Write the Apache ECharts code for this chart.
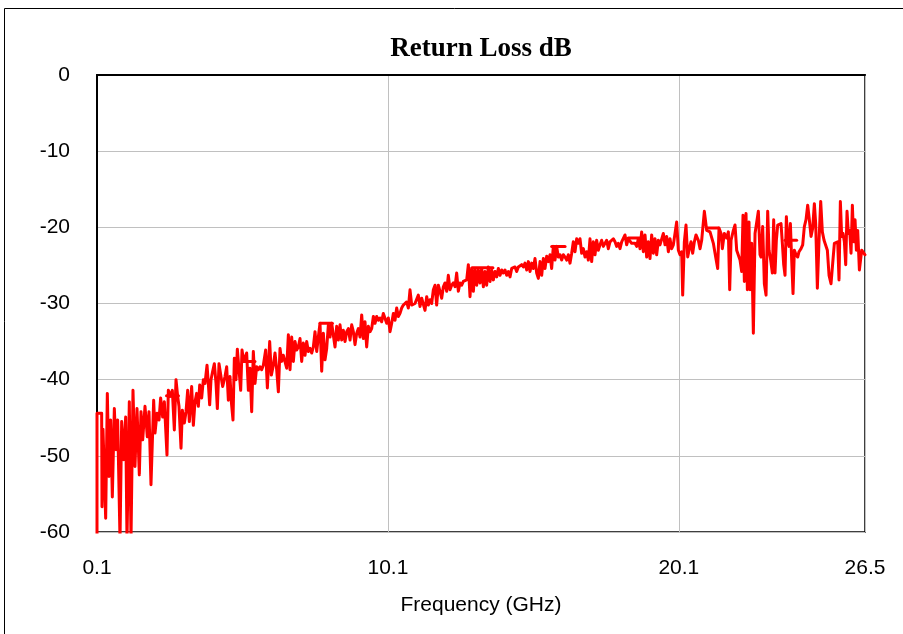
<!DOCTYPE html>
<html>
<head>
<meta charset="utf-8">
<script src="https://cdn.jsdelivr.net/npm/echarts@6/dist/echarts.min.js"></script>
<style>
html,body{margin:0;padding:0;background:#fff;}
#chart{width:903px;height:634px;}
</style>
</head>
<body>
<div id="chart"></div>
<script>
// Return loss trace: [frequency GHz, return loss dB]
const trace = [
[0.1,-61],[0.1,-44.4],[0.26,-44.4],[0.272,-56.7],[0.306,-46.5],[0.398,-58.2],[0.455,-41.8],[0.512,-52.7],[0.570,-45.3],[0.627,-55.4],
[0.696,-43.8],[0.753,-49.2],[0.810,-45.3],[0.891,-61],[0.948,-45.5],[1.017,-50.5],[1.085,-44.9],[1.131,-61],[1.211,-42.9],[1.269,-61],
[1.337,-41.4],[1.406,-51.4],[1.475,-43.8],[1.555,-52.5],[1.612,-44.2],[1.670,-47.9],[1.750,-43.5],[1.830,-47.5],[1.887,-44.2],[1.956,-53.8],
[2.048,-42.7],[2.094,-47.0],[2.163,-44.4],[2.231,-45.3],[2.288,-42.4],[2.357,-44.9],[2.415,-42.9],[2.506,-49.9],[2.552,-41.4],[2.621,-42.2],
[2.690,-41.4],[2.758,-46.6],[2.816,-40.0],[2.873,-42.2],[2.919,-43.5],[2.988,-49.0],[3.034,-44.0],[3.102,-45.7],[3.160,-44.2],[3.217,-41.4],
[3.274,-45.5],[3.354,-40.9],[3.412,-46.0],[3.469,-42.9],[3.526,-41.8],[3.584,-43.5],[3.630,-40.7],[3.698,-42.4],[3.756,-40.0],[3.813,-40.5],
[3.882,-38.1],[3.927,-40.5],[3.973,-43.3],[4.019,-40.0],[4.076,-38.9],[4.134,-37.9],[4.191,-40.5],[4.237,-43.8],[4.294,-37.9],[4.363,-39.6],
[4.420,-40.9],[4.500,-39.6],[4.558,-38.3],[4.615,-42.7],[4.672,-39.6],[4.718,-42.9],[4.775,-45.3],[4.821,-37.2],[4.878,-40.0],[4.924,-36.0],
[4.982,-38.7],[5.039,-41.4],[5.085,-36.1],[5.142,-37.6],[5.200,-37.4],[5.245,-36.5],[5.303,-41.4],[5.360,-38.5],
[5.417,-44.2],[5.474,-36.3],[5.532,-40.5],[5.589,-38.3],[5.646,-38.7],[5.704,-38.3],[5.761,-38.7],[5.818,-38.1],[5.898,-36.1],[5.956,-41.1],
[6.036,-35.0],[6.093,-39.4],[6.162,-38.1],[6.219,-36.5],[6.277,-38.7],[6.334,-41.6],[6.391,-35.9],[6.449,-37.6],[6.506,-36.8],[6.563,-37.0],
[6.620,-38.5],[6.678,-34.1],[6.735,-38.7],[6.792,-34.4],[6.850,-37.6],[6.907,-35.0],[6.964,-36.1],[7.021,-35.7],[7.079,-34.6],[7.136,-37.6],
[7.193,-35.2],[7.251,-36.8],[7.308,-35.0],[7.365,-36.3],[7.422,-35.9],[7.480,-36.5],[7.537,-35.7],[7.594,-33.7],[7.652,-36.3],[7.709,-34.4],
[7.766,-32.6],[7.824,-38.9],[7.881,-33.9],[7.938,-37.4],[7.996,-35.9],[8.053,-32.8],[8.110,-34.4],[8.167,-32.6],[8.225,-32.8],[8.282,-35.7],
[8.339,-33.0],[8.397,-34.8],[8.454,-32.8],[8.511,-34.8],[8.568,-33.5],[8.626,-35.0],[8.683,-33.7],[8.740,-33.3],[8.798,-34.8],[8.855,-32.8],
[8.912,-33.7],[8.969,-35.4],[9.027,-33.9],[9.084,-33.3],[9.141,-34.4],[9.199,-31.5],[9.256,-34.6],[9.313,-32.4],[9.370,-35.7],[9.428,-33.0],
[9.485,-33.7],[9.542,-33.3],[9.600,-31.7],[9.657,-32.6],[9.714,-31.7],[9.771,-32.2],[9.829,-31.9],[9.886,-32.4],[9.943,-31.3],[10.001,-31.1],
[10.058,-32.6],[10.115,-31.9],[10.172,-33.7],[10.230,-32.6],[10.287,-31.3],[10.344,-32.2],[10.402,-30.6],[10.459,-31.7],
[10.516,-31.3],[10.573,-30.6],[10.630,-30.2],[10.688,-30.0],[10.745,-29.8],[10.802,-30.6],[10.860,-28.2],[10.917,-30.2],[10.974,-30.4],[11.031,-30.0],
[11.089,-30.2],[11.146,-28.9],[11.203,-30.4],[11.261,-29.3],[11.318,-29.5],[11.375,-30.9],[11.433,-29.1],[11.490,-30.2],[11.547,-29.5],[11.604,-30.0],
[11.662,-28.2],[11.719,-27.6],[11.776,-30.2],[11.834,-27.6],[11.891,-28.4],[11.948,-29.3],[12.006,-27.8],[12.063,-27.3],[12.120,-28.4],[12.177,-26.3],
[12.235,-28.2],[12.292,-27.6],[12.349,-27.3],[12.407,-27.8],[12.464,-26.0],[12.521,-28.4],[12.578,-27.3],[12.636,-27.6],[12.693,-27.1],[12.750,-27.3],
[12.808,-26.9],[12.865,-24.9],[12.922,-29.1],[12.980,-25.4],[13.037,-28.4],[13.094,-25.4],[13.151,-27.6],[13.209,-25.6],[13.266,-27.3],[13.323,-25.4],
[13.381,-27.8],[13.438,-25.8],[13.495,-27.6],[13.552,-25.2],[13.610,-27.1],[13.667,-25.6],[13.724,-26.9],[13.782,-25.8],[13.839,-26.5],[13.896,-25.4],
[13.954,-26.3],[14.011,-25.6],[14.068,-26.0],[14.125,-25.6],[14.183,-26.3],[14.240,-25.8],[14.297,-26.5],[14.355,-25.4],[14.412,-25.6],[14.469,-25.2],
[14.526,-25.8],[14.584,-25.2],[14.641,-25.4],[14.698,-24.9],[14.756,-25.2],[14.813,-24.7],[14.870,-25.6],[14.928,-24.5],[14.985,-25.8],[15.042,-24.7],
[15.099,-25.4],[15.157,-24.1],[15.214,-26.0],[15.271,-26.7],[15.329,-24.5],[15.386,-26.3],[15.443,-24.1],[15.500,-25.4],[15.558,-23.8],[15.615,-24.5],
[15.672,-23.6],[15.729,-25.4],[15.786,-22.5],[15.844,-24.3],[15.901,-22.5],[15.958,-23.9],[16.016,-23.6],[16.073,-24.3],[16.130,-23.6],[16.188,-23.9],
[16.245,-24.3],[16.302,-23.6],[16.359,-24.7],[16.417,-23.4],[16.474,-21.9],[16.531,-23.2],[16.589,-21.5],[16.646,-22.1],[16.703,-21.5],[16.760,-23.4],
[16.818,-22.8],[16.875,-23.9],[16.932,-23.2],[16.990,-24.3],[17.047,-21.5],[17.104,-24.5],[17.162,-21.9],[17.219,-23.6],[17.276,-21.7],[17.333,-23.0],
[17.391,-22.3],[17.448,-21.7],[17.505,-22.5],[17.563,-22.5],[17.620,-21.7],[17.677,-22.8],[17.734,-21.9],[17.792,-22.1],[17.849,-21.5],[17.906,-21.9],
[17.964,-22.5],[18.021,-22.1],[18.078,-22.8],[18.136,-21.9],[18.193,-21.7],[18.250,-21.0],[18.307,-22.3],[18.365,-21.5],[18.422,-21.5],[18.479,-22.1],
[18.537,-21.9],[18.594,-22.1],[18.651,-22.5],[18.708,-21.5],[18.766,-22.8],[18.823,-20.6],[18.880,-23.2],[18.938,-21.0],[18.995,-23.9],[19.052,-21.9],
[19.109,-24.1],[19.167,-21.0],[19.224,-23.4],[19.281,-21.5],[19.339,-23.6],[19.396,-21.7],[19.453,-22.3],[19.511,-22.5],[19.568,-20.8],[19.625,-22.3],
[19.682,-21.2],[19.740,-23.2],[19.797,-21.5],[19.854,-22.8],[19.912,-22.3],[19.969,-22.3],[20.026,-19.3],[20.084,-23.0],[20.141,-23.6],[20.198,-23.2],
[20.233,-28.9],[20.290,-21.9],[20.347,-19.7],[20.405,-23.9],[20.462,-22.8],[20.519,-21.9],[20.576,-23.4],[20.634,-21.9],[20.691,-21.0],[20.771,-21.7],
[20.829,-22.8],[20.886,-21.7],[20.978,-17.9],[21.058,-20.4],[21.115,-20.6],[21.173,-20.6],[21.230,-20.8],[21.287,-22.1],[21.367,-23.9],[21.436,-25.4],
[21.482,-20.1],[21.551,-20.8],[21.597,-22.8],[21.665,-20.8],[21.746,-21.4],[21.803,-20.6],[21.849,-28.2],[21.895,-21.7],[21.975,-20.4],[22.032,-19.7],
[22.089,-23.0],[22.147,-22.8],[22.204,-24.3],[22.261,-25.8],[22.307,-18.4],[22.353,-27.1],[22.410,-18.2],[22.456,-28.2],[22.513,-19.3],[22.548,-28.2],
[22.605,-22.1],[22.662,-33.9],[22.720,-20.8],[22.777,-20.6],[22.834,-17.9],[22.891,-23.6],[22.926,-23.9],[22.983,-19.9],[23.040,-27.4],[23.098,-28.9],
[23.155,-17.9],[23.201,-23.0],[23.258,-24.3],[23.315,-26.0],[23.361,-19.0],[23.407,-26.0],[23.453,-21.7],[23.499,-19.7],[23.556,-19.9],[23.613,-19.5],
[23.659,-22.1],[23.705,-24.9],[23.751,-26.3],[23.797,-18.6],[23.843,-21.7],[23.889,-22.5],[23.935,-19.5],[23.980,-24.3],[24.026,-28.7],[24.072,-23.0],
[24.129,-23.6],[24.186,-23.9],[24.232,-23.2],[24.301,-22.8],[24.358,-22.3],[24.415,-19.9],[24.473,-19.0],[24.530,-17.1],[24.587,-19.0],[24.645,-21.2],
[24.702,-20.1],[24.759,-16.9],[24.805,-19.5],[24.862,-28.0],[24.920,-21.7],[24.977,-16.6],[25.034,-20.6],[25.092,-21.7],[25.149,-21.9],[25.206,-23.0],
[25.264,-26.3],[25.332,-27.4],[25.390,-24.7],[25.447,-22.1],[25.504,-21.9],[25.561,-21.9],[25.607,-26.9],[25.653,-16.6],[25.699,-21.2],[25.745,-20.8],
[25.791,-21.9],[25.837,-24.9],[25.882,-17.9],[25.928,-20.8],[25.974,-20.4],[26.020,-23.4],[26.066,-17.1],[26.112,-21.9],[26.158,-19.0],[26.204,-23.0],
[26.249,-20.4],[26.307,-25.6],[26.387,-23.0],[26.5,-23.6]
];
// Short flat stretches in the trace: [start GHz, end GHz, dB]
const flatSegments = [
[2.49,2.90,-42.1],[5.12,5.53,-37.6],[7.77,8.19,-32.6],[12.99,13.71,-25.3],
[15.73,16.19,-22.5],[18.36,18.82,-21.4],[21.06,21.46,-20.1],[23.75,24.15,-21.7]
];
const xTicks = [0.1, 10.1, 20.1, 26.5];
const yMin = -60, yMax = 0, yStep = 10;

const lineStyle = {color:'#ff0000', width:3, join:'round', cap:'round'};
const series = [{
  type:'line', data:trace, showSymbol:false, symbol:'none', lineStyle:lineStyle,
  clip:true, animation:false, z:3
}];
flatSegments.forEach(s => {
  series.push({type:'line', data:[[s[0],s[2]],[s[1],s[2]]], showSymbol:false, symbol:'none',
    lineStyle:lineStyle, clip:true, animation:false, z:3});
});

const chart = echarts.init(document.getElementById('chart'), null, {renderer:'canvas'});
chart.setOption({
  animation:false,
  backgroundColor:'#fff',
  title:{
    text:'Return Loss dB', left:481, top:36, padding:0, textAlign:'center',
    textStyle:{fontFamily:'Liberation Serif', fontWeight:'bold', fontSize:27, color:'#000'}
  },
  graphic:[{
    type:'rect', shape:{x:4.5, y:8.5, width:920, height:700},
    style:{fill:null, stroke:'#000', lineWidth:1}, silent:true, z:-10
  }],
  grid:{left:97, right:38, top:75, bottom:102, show:true, borderColor:'#000', borderWidth:1.5, containLabel:false},
  xAxis:{
    type:'value', min:0.1, max:26.5,
    name:'Frequency (GHz)', nameLocation:'middle', nameGap:63,
    nameTextStyle:{fontFamily:'Liberation Sans', fontSize:21, color:'#000'},
    axisLine:{show:true, lineStyle:{color:'#000', width:2}},
    axisTick:{show:false, customValues:xTicks},
    axisLabel:{customValues:xTicks, fontFamily:'Liberation Sans', fontSize:21, color:'#000', margin:26,
      formatter:v => String(v)},
    splitLine:{show:true, lineStyle:{color:'#c0c0c0', width:1}}
  },
  yAxis:{
    type:'value', min:yMin, max:yMax, interval:yStep,
    axisLine:{show:true, lineStyle:{color:'#000', width:2}},
    axisTick:{show:false},
    axisLabel:{fontFamily:'Liberation Sans', fontSize:21, color:'#000', margin:27},
    splitLine:{show:true, lineStyle:{color:'#c0c0c0', width:1}}
  },
  series:series
});
</script>
</body>
</html>
